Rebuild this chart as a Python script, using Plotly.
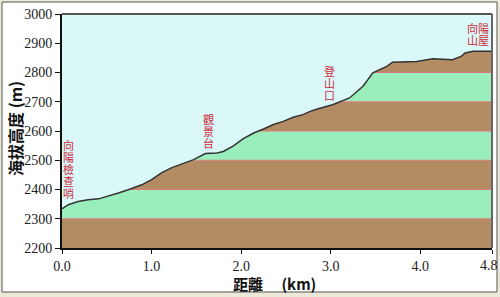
import plotly.graph_objects as go

dist_km = [0.00, 0.07, 0.18, 0.29, 0.41, 0.52, 0.63, 0.74, 0.89, 1.00, 1.11, 1.22,
           1.37, 1.47, 1.60, 1.73, 1.80, 1.91, 2.02, 2.14, 2.25, 2.36, 2.47, 2.58,
           2.69, 2.77, 2.85, 3.02, 3.21, 3.36, 3.47, 3.55, 3.63, 3.69, 3.96, 4.14,
           4.36, 4.46, 4.50, 4.59, 4.80]
elev_m = [2334, 2348, 2359, 2365, 2368, 2377, 2388, 2399, 2416, 2434, 2457, 2474,
          2491, 2502, 2523, 2525, 2530, 2548, 2573, 2593, 2607, 2622, 2633, 2647,
          2656, 2667, 2675, 2690, 2713, 2753, 2799, 2811, 2822, 2835, 2838, 2847,
          2844, 2856, 2867, 2873, 2873]

x_ticks = [0, 1, 2, 3, 4, 4.8]
x_tick_text = ["0.0", "1.0", "2.0", "3.0", "4.0", "4.8"]
y_ticks = [2200, 2300, 2400, 2500, 2600, 2700, 2800, 2900, 3000]

band_edges = [2200, 2300, 2400, 2500, 2600, 2700, 2800, 2900, 3000]

# place labels: (x km, top elevation m, rows of text)
labels = [
    (0.067, 2571, list("向陽檢查哨")),
    (1.64, 2663, list("觀景台")),
    (2.99, 2827, list("登山口")),
    (4.64, 2971, ["向陽", "山屋"]),
]

BROWN = "#b48c64"
GREEN = "#9aeebb"
SKY = "#daf8f8"
RED = "#cc2a3a"
TICKFONT = dict(family="Liberation Serif", size=14, color="#222222")

fig = go.Figure()

shapes = []
# outer white frame
shapes.append(dict(type="rect", xref="paper", yref="paper",
                   x0=(2 - 62) / 430, x1=(497 - 62) / 430,
                   y0=(248 - 292) / 234, y1=(248 - 2) / 234,
                   fillcolor="white", line=dict(color="#555555", width=1),
                   layer="below"))
# terrain bands
for i in range(len(band_edges) - 1):
    shapes.append(dict(type="rect", xref="x", yref="y",
                       x0=0, x1=4.8, y0=band_edges[i], y1=band_edges[i + 1],
                       fillcolor=BROWN if i % 2 == 0 else GREEN,
                       line=dict(width=0), layer="below"))
for e in band_edges[1:-1]:
    shapes.append(dict(type="line", xref="x", yref="y", x0=0, x1=4.8, y0=e, y1=e,
                       line=dict(color="#e07a78", width=1), layer="below"))
# top and right frame of plot
shapes.append(dict(type="line", xref="paper", yref="paper", x0=0, x1=1, y0=1, y1=1,
                   line=dict(color="#555555", width=2), layer="above"))
shapes.append(dict(type="line", xref="paper", yref="paper", x0=1, x1=1, y0=0, y1=1,
                   line=dict(color="#666666", width=2), layer="above"))

# sky above the profile
fig.add_trace(go.Scatter(
    x=dist_km + [dist_km[-1], dist_km[0]],
    y=elev_m + [3000, 3000],
    fill="toself", fillcolor=SKY, mode="none", hoverinfo="skip", showlegend=False))
# profile line
fig.add_trace(go.Scatter(x=dist_km, y=elev_m, mode="lines",
                         line=dict(color="#333333", width=1.5), showlegend=False))

annotations = []
for (lx, ly, rows) in labels:
    for i, row in enumerate(rows):
        annotations.append(dict(x=lx, y=ly, xref="x", yref="y", text=row,
                                showarrow=False, yanchor="middle", xanchor="center",
                                yshift=-(6 + 12 * i), borderpad=0,
                                font=dict(family="Noto Sans CJK TC", size=11, color=RED)))

# last tick label placed as annotation so it can hang past the plot edge
annotations.append(dict(x=x_ticks[-1], y=0, xref="x", yref="paper", text=x_tick_text[-1],
                        showarrow=False, xanchor="center", yanchor="top", yshift=-9,
                        xshift=-3, borderpad=0, font=TICKFONT))

annotations.append(dict(x=(15 - 62) / 430, y=(248 - 129) / 234, xref="paper", yref="paper",
                        text="<b>海拔高度 (m)</b>", textangle=-90, showarrow=False,
                        xanchor="center", yanchor="middle",
                        font=dict(family="Noto Sans CJK TC", size=16, color="#111111")))
annotations.append(dict(x=(274 - 62) / 430, y=(248 - 283) / 234, xref="paper", yref="paper",
                        text="<b>距離\u3000 (km)</b>", showarrow=False,
                        xanchor="center", yanchor="middle", borderpad=0,
                        font=dict(family="Noto Sans CJK TC", size=15, color="#111111")))

fig.update_layout(
    width=500, height=297,
    margin=dict(l=62, r=8, t=14, b=49, pad=0),
    paper_bgcolor="#ece9d8",
    plot_bgcolor=SKY,
    shapes=shapes,
    annotations=annotations,
    showlegend=False,
)
fig.update_xaxes(range=[0, 4.8], tickvals=x_ticks,
                 ticktext=x_tick_text[:-1] + [""],
                 ticks="outside", ticklen=4, tickwidth=1, tickcolor="#111111",
                 showline=True, linecolor="#111111", linewidth=2,
                 showgrid=False, zeroline=False, tickfont=TICKFONT)
fig.update_yaxes(range=[2200, 3000], tickvals=y_ticks,
                 ticks="outside", ticklen=5, tickwidth=1, tickcolor="#111111",
                 showline=True, linecolor="#111111", linewidth=2,
                 showgrid=False, zeroline=False, tickfont=TICKFONT)

fig.write_html("out.html")
